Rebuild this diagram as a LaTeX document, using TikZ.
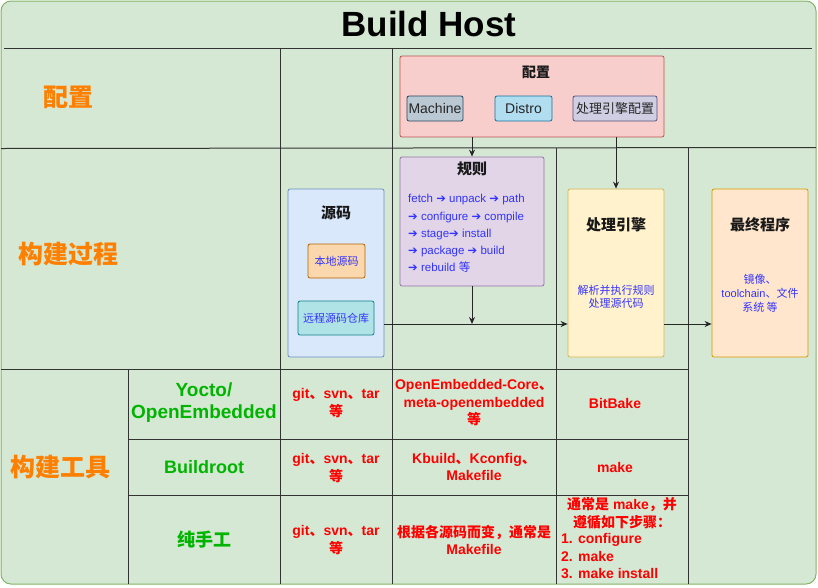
\documentclass[tikz,border=0pt]{standalone}
\usepackage{fontspec}
\setmainfont{Liberation Sans}
\newfontfamily\cjk{Noto Sans CJK SC}
\newfontfamily\dvs{DejaVu Sans}
\usetikzlibrary{arrows.meta}
\definecolor{bgfill}{HTML}{D5E8D4}
\definecolor{bgline}{HTML}{82B366}
\definecolor{gridc}{HTML}{333333}
\definecolor{redfill}{HTML}{F8CECC}
\definecolor{redline}{HTML}{B85450}
\definecolor{purfill}{HTML}{E1D5E7}
\definecolor{purline}{HTML}{9673A6}
\definecolor{bluefill}{HTML}{DAE8FC}
\definecolor{blueline}{HTML}{6C8EBF}
\definecolor{yelfill}{HTML}{FFF2CC}
\definecolor{yelline}{HTML}{D6B656}
\definecolor{orfill}{HTML}{FFE6CC}
\definecolor{orline}{HTML}{D79B00}
\definecolor{machfill}{HTML}{BAC8D3}
\definecolor{machline}{HTML}{23445D}
\definecolor{disfill}{HTML}{B1DDF0}
\definecolor{disline}{HTML}{10739E}
\definecolor{engfill}{HTML}{D0CEE2}
\definecolor{engline}{HTML}{56517E}
\definecolor{locfill}{HTML}{FAD7AC}
\definecolor{locline}{HTML}{B46504}
\definecolor{remfill}{HTML}{B0E3E6}
\definecolor{remline}{HTML}{0E8088}
\definecolor{bluec}{HTML}{3333FF}
\definecolor{redc}{HTML}{FF0000}
\definecolor{greenc}{HTML}{00B400}
\definecolor{orangec}{HTML}{FF8000}
\newcommand\zh[1]{{\cjk #1}}
\newcommand\ar{{\dvs ➔}}
\newcommand\fs[2]{\fontsize{#1}{#2}\selectfont}
\tikzset{
  gridline/.style={draw=gridc, line width=1pt},
  box/.style={draw, rounded corners=2pt, line width=0.8pt, inner sep=0pt},
  arr/.style={draw=black!85, line width=0.9pt, -{Stealth[length=7pt,width=6pt]}},
  lbl/.style={text=orangec, font=\cjk\bfseries\fs{25}{30}},
  tool/.style={text=greenc, font=\bfseries\fs{19}{22}, align=center},
  cell/.style={text=redc, font=\bfseries\fs{14}{17.5}, align=center},
  ttl/.style={text=black!90, font=\cjk\bfseries\fs{15}{18}},
  bluetxt/.style={text=bluec, font=\fs{11}{13}, align=center},
  small/.style={text=black!85, font=\fs{14}{17}}
}
\begin{document}
\begin{tikzpicture}[x=1pt,y=-1pt]
\useasboundingbox (0,0) rectangle (818,587);
\draw[draw=bgline, fill=bgfill, line width=1pt, rounded corners=10pt] (1,1) rectangle (816,584);
\node[font=\bfseries\fs{35}{40}] (title) at (429,24) {Build Host};

% grid
\draw[gridline] (4,48) -- (812,48);
\draw[gridline] (1,148.5) -- (816,147.5);
\draw[gridline] (280,48) -- (280,584);
\draw[gridline] (392,48) -- (392,584);
\draw[gridline] (556,148) -- (556,584);
\draw[gridline] (688,148) -- (688,584);
\draw[gridline] (1,369) -- (688,369);
\draw[gridline] (128,369) -- (128,584);
\draw[gridline] (128,439) -- (688,439);
\draw[gridline] (128,495) -- (688,495);

% left labels
\node[lbl] (l1) at (68,97) {配置};
\node[lbl] (l2) at (68,254) {构建过程};
\node[lbl] (l3) at (60,467) {构建工具};

% config box
\node[box, fill=redfill, draw=redline, minimum width=264pt, minimum height=81pt] (cfg) at (532,96.5) {};
\node[ttl, font=\cjk\bfseries\fs{14}{17}] (cfgT) at (536,72) {配置};
\node[box, fill=machfill, draw=machline, minimum width=56pt, minimum height=25pt, small] (mach) at (435,108.5) {Machine};
\node[box, fill=disfill, draw=disline, minimum width=57pt, minimum height=25pt, small] (dis) at (523.5,108.5) {Distro};
\node[box, fill=engfill, draw=engline, minimum width=84pt, minimum height=25pt, small, font=\cjk\fs{13}{16}] (ecfg) at (615,108.5) {处理引擎配置};

% rules box
\node[box, fill=purfill, draw=purline, minimum width=144pt, minimum height=129pt] (rules) at (472,221.5) {};
\node[ttl] (rulesT) at (472,168.5) {规则};
\node[anchor=west, inner sep=0pt, align=left, text=bluec, font=\fs{11.5}{17.2}] (rulesTxt) at (408,233.5)
  {fetch \ar{} unpack \ar{} path\\\ar{} configure \ar{} compile\\\ar{} stage\ar{} install\\\ar{} package \ar{} build\\\ar{} rebuild \zh{等}};

% source box
\node[box, fill=bluefill, draw=blueline, minimum width=96pt, minimum height=168pt] (src) at (336,273) {};
\node[ttl] (srcT) at (336,212.5) {源码};
\node[box, fill=locfill, draw=locline, minimum width=57pt, minimum height=34pt, text=bluec, font=\cjk\fs{11}{13}] (loc) at (336.5,261) {本地源码};
\node[box, fill=remfill, draw=remline, minimum width=76pt, minimum height=34pt, text=bluec, font=\cjk\fs{11}{13}] (rem) at (336,318) {远程源码仓库};

% engine box
\node[box, fill=yelfill, draw=yelline, minimum width=96pt, minimum height=168pt] (eng) at (616,273) {};
\node[ttl] (engT) at (616,224.5) {处理引擎};
\node[bluetxt, font=\cjk\fs{11}{13}] (engTxt) at (616,297) {解析并执行规则\\处理源代码};

% final box
\node[box, fill=orfill, draw=orline, minimum width=96pt, minimum height=168pt] (fin) at (760,273) {};
\node[ttl] (finT) at (760,224.5) {最终程序};
\node[bluetxt, font=\fs{11}{14}] (finTxt) at (760,293) {\zh{镜像、}\\toolchain\zh{、文件}\\\zh{系统 等}};

% connectors
\coordinate (flow) at (0,324);
\draw[arr] (rules.north |- cfg.south) -- (rules.north);
\draw[arr] (eng.north |- cfg.south) -- (eng.north);
\draw[arr] (rules.south) -- (rules.south |- flow);
\draw[arr] (src.east |- flow) -- (eng.west |- flow);
\draw[arr] (eng.east |- flow) -- (fin.west |- flow);

% bottom table
\node[tool] (t1) at (204,403) {Yocto/\\OpenEmbedded};
\node[tool, font=\bfseries\fs{18}{22}] (t2) at (204,467) {Buildroot};
\node[tool, font=\cjk\bfseries\fs{18}{22}] (t3) at (204,540) {纯手工};

\node[cell] (s1) at (336,403) {git\zh{、}svn\zh{、}tar\\\zh{等}};
\node[cell] (s2) at (336,468) {git\zh{、}svn\zh{、}tar\\\zh{等}};
\node[cell] (s3) at (336,540) {git\zh{、}svn\zh{、}tar\\\zh{等}};

\node[cell] (r1) at (474,403) {OpenEmbedded-Core\zh{、}\\meta-openembedded\\\zh{等}};
\node[cell] (r2) at (474,467) {Kbuild\zh{、}Kconfig\zh{、}\\Makefile};
\node[cell] (r3) at (474,540) {\zh{根据各源码而变，通常是}\\Makefile};

\node[cell] (e1) at (615,403) {BitBake};
\node[cell] (e2) at (615,467) {make};
\node[cell] (e3a) at (622,513) {\zh{通常是} make\zh{，并}\\\zh{遵循如下步骤：}};
\node[cell, anchor=west, align=left, inner sep=0pt] (e3b) at (561,556) {1. configure\\2. make\\3. make install};
\end{tikzpicture}
\end{document}
